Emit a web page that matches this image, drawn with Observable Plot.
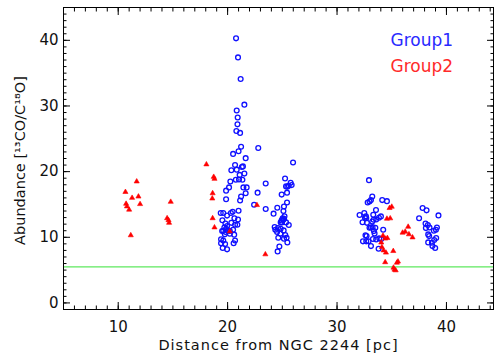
<!DOCTYPE html>
<html>
<head>
<meta charset="utf-8">
<script src="https://cdn.jsdelivr.net/npm/d3@7"></script>
<script src="https://cdn.jsdelivr.net/npm/@observablehq/plot@0.6"></script>
<style>
  html, body { margin: 0; padding: 0; background: #fff; }
</style>
</head>
<body>
<div id="chart"></div>
<script>
// Group 1: distance from NGC 2244 [pc] and 13CO/C18O abundance ratio
const group1Dist = [
  20.77, 20.95, 21.19, 21.53, 20.83, 20.92, 20.9, 20.8, 21.14,
  21.23, 22.8, 21.0, 20.5, 21.65, 20.68, 20.83, 21.4, 21.3, 20.34, 21.53, 21.1,
  20.75, 21.04, 21.35, 20.25, 21.44, 21.74, 20.13, 19.86, 23.48, 21.65, 22.74,
  21.23, 21.14, 19.86, 22.42, 23.48, 21.0, 20.46, 20.3, 19.37, 19.6, 19.95,
  20.62, 20.95, 19.52, 20.34, 20.68, 20.89, 19.8, 19.95, 19.7, 19.86, 20.04,
  20.2, 19.6, 19.8, 19.5, 20.5, 20.6, 20.2, 19.74, 19.4, 19.6, 20.68, 20.55,
  19.4, 19.77, 19.55, 19.95,
  25.98, 25.25, 25.76, 25.85, 25.58, 25.34, 25.46, 25.43, 24.94, 25.43, 25.15,
  24.54, 25.1, 24.2, 25.2, 25.03, 25.16, 24.94, 25.09, 24.97, 24.85, 25.34,
  25.59, 24.3, 24.6, 24.85, 25.12, 24.36, 24.52, 24.82, 25.27, 25.39, 24.63,
  25.15, 25.46, 24.73, 24.57,
  32.92, 33.22, 33.1, 32.8, 32.97, 34.13, 34.56, 33.56, 32.49, 33.31, 32.06,
  32.64, 32.67, 32.55, 34.01, 33.83, 33.58, 33.34, 32.33, 32.73, 33.22, 33.1,
  33.25, 32.97, 33.5, 34.22, 33.37, 33.43, 32.6, 32.7, 33.86, 34.04, 33.58,
  33.28, 32.37, 32.67, 32.88, 33.1, 33.8,
  37.82, 38.18, 37.5, 39.27, 38.09, 38.3, 38.12, 38.45, 39.13, 39.04, 38.85,
  38.33, 38.42, 39.06, 38.88, 38.33, 38.67, 38.72, 38.97
];
const group1Abund = [
  40.3, 37.4, 34.1, 30.2, 29.3, 28.25, 27.2, 26.2, 25.9,
  23.8, 23.6, 23.1, 22.7, 22.05, 21.0, 20.3, 20.8, 20.7, 20.2, 19.7, 19.5,
  18.77, 18.8, 18.77, 18.5, 17.6, 17.6, 17.6, 17.1, 18.2, 16.7, 16.8,
  16.2, 15.6, 15.8, 14.96, 14.3, 14.05, 13.9, 13.7, 13.7, 13.7, 13.3,
  12.9, 12.7, 12.6, 12.2, 11.9, 11.9, 12.1, 11.7, 11.5, 11.3, 11.05,
  10.95, 11.0, 10.8, 10.95, 11.15, 10.4, 10.55, 10.45, 9.7, 9.5, 9.5, 9.1,
  9.1, 8.96, 8.36, 8.16,
  21.4, 18.95, 18.3, 17.95, 17.85, 17.75, 17.7, 16.8, 16.5, 15.3, 14.7,
  14.5, 14.0, 13.6, 13.2, 12.88, 12.83, 12.57, 12.68, 12.27, 12.27, 12.27,
  11.86, 11.55, 11.4, 11.3, 11.05, 11.15, 10.8, 10.55, 10.33, 9.94, 9.94,
  9.79, 9.2, 8.6, 7.85,
  18.7, 16.2, 15.66, 15.3, 15.45, 15.66, 15.5, 14.14, 13.7, 13.44, 13.4,
  13.2, 12.92, 12.98, 13.18, 12.98, 12.72, 12.68, 12.3, 12.2, 12.4, 11.5,
  11.55, 11.45, 11.45, 11.15, 10.94, 10.59, 10.3, 10.2, 9.83, 9.72, 9.68,
  9.73, 9.38, 9.38, 9.38, 8.66, 8.26,
  14.45, 14.1, 12.9, 13.33, 12.1, 11.86, 11.4, 11.5, 11.5, 11.15, 11.0,
  10.44, 10.18, 9.88, 9.58, 9.22, 9.17, 8.66, 8.36
];

// Group 2
const group2Dist = [
  11.69, 10.66, 11.85, 11.27, 10.72, 10.8, 11.0, 12.0, 14.8, 14.47, 14.6, 14.65, 11.15,
  18.06, 18.73, 18.8, 18.63, 18.6, 18.63, 18.8,
  22.68, 20.2, 23.45,
  34.8, 35.0, 34.56, 34.86, 36.5, 35.99, 36.23, 36.57, 36.9, 34.2, 34.4, 34.6,
  34.04, 34.1, 34.25, 34.47, 35.14, 34.4, 35.47, 35.57, 35.16, 35.25, 35.36
];
const group2Abund = [
  18.5, 16.9, 16.2, 16.0, 15.1, 14.7, 14.2, 15.05, 15.4, 12.9, 12.6, 12.2, 10.3,
  21.1, 19.2, 18.9, 16.7, 15.9, 12.9, 11.5,
  14.9, 10.9, 7.4,
  14.45, 14.65, 12.83, 12.88, 11.6, 10.7, 10.85, 10.45, 9.98, 10.24, 9.8, 9.88,
  9.2, 8.5, 8.0, 7.66, 7.9, 6.2, 6.13, 6.3, 5.37, 5.07, 4.96
];

// Reference abundance level
const referenceLevel = [5.5];

// Axis ticks
const xMajor = [10, 20, 30, 40];
const xMinor = d3.range(6, 45);
const yMajor = [0, 10, 20, 30, 40];
const yMinor = d3.range(0, 45);

const xTitle = "Distance from NGC 2244 [pc]";
const yTitle = "Abundance [\u00B9\u00B3CO/C\u00B9\u2078O]";
const legendNames = ["Group1", "Group2"];
const legendColors = ["#2a2aff", "#ff2a2a"];

const group1 = group1Dist.map((d, i) => ({dist: d, abund: group1Abund[i]}));
const group2 = group2Dist.map((d, i) => ({dist: d, abund: group2Abund[i]}));

const font = "DejaVu Sans, sans-serif";

const inwardTicks = (anchor, isX, ticks, size) =>
  (isX ? Plot.axisX : Plot.axisY)({anchor, ticks, tickSize: -size, fill: "none", stroke: "#000", label: null});

const chart = Plot.plot({
  width: 496,
  height: 356,
  marginTop: 7,
  marginBottom: 47,
  marginLeft: 63,
  marginRight: 3,
  style: {fontFamily: font, fontSize: "15px", background: "#fff", color: "#000"},
  x: {domain: [5, 44.3]},
  y: {domain: [-1, 45]},
  marks: [
    Plot.ruleY(referenceLevel, {stroke: "#5ee85e", strokeWidth: 1.2}),
    Plot.dot(group1, {x: "dist", y: "abund", r: 2.4, stroke: "#1010ff", strokeWidth: 1.3, fill: "none"}),
    Plot.dot(group2, {x: "dist", y: "abund", r: 1.9, symbol: "triangle", fill: "#ff0000", stroke: "#ff0000", strokeWidth: 0.6}),
    // inward major and minor ticks on all four sides
    inwardTicks("bottom", true, xMajor, 7),
    inwardTicks("bottom", true, xMinor, 3.5),
    inwardTicks("top", true, xMajor, 7),
    inwardTicks("top", true, xMinor, 3.5),
    inwardTicks("left", false, yMajor, 7),
    inwardTicks("left", false, yMinor, 3.5),
    inwardTicks("right", false, yMajor, 7),
    inwardTicks("right", false, yMinor, 3.5),
    // tick labels
    Plot.axisX({anchor: "bottom", ticks: xMajor, tickSize: 0, tickPadding: 12, stroke: "none", label: null, fontSize: 15, fill: "#111"}),
    Plot.axisY({anchor: "left", ticks: yMajor, tickSize: 0, tickPadding: 5, stroke: "none", label: null, fontSize: 15, fill: "#111"}),
    Plot.frame({stroke: "#000", strokeWidth: 1}),
    // axis titles
    Plot.text([xTitle], {frameAnchor: "bottom", textAnchor: "middle", lineAnchor: "middle", dy: 36, fontSize: 14.5, fill: "#111"}),
    Plot.text([yTitle], {frameAnchor: "left", textAnchor: "middle", lineAnchor: "middle", dx: -43, dy: 2, rotate: -90, fontSize: 14.5, fill: "#111"}),
    // legend
    Plot.text([legendNames[0]], {frameAnchor: "top-left", textAnchor: "start", lineAnchor: "middle", dx: 327, dy: 33, fill: legendColors[0], fontSize: 17}),
    Plot.text([legendNames[1]], {frameAnchor: "top-left", textAnchor: "start", lineAnchor: "middle", dx: 327, dy: 59, fill: legendColors[1], fontSize: 17})
  ]
});

// widen the x-axis title's letter spacing
d3.select(chart).selectAll("text")
  .filter(function () { return this.textContent === xTitle; })
  .attr("letter-spacing", "1px");

document.getElementById("chart").appendChild(chart);
</script>
</body>
</html>
